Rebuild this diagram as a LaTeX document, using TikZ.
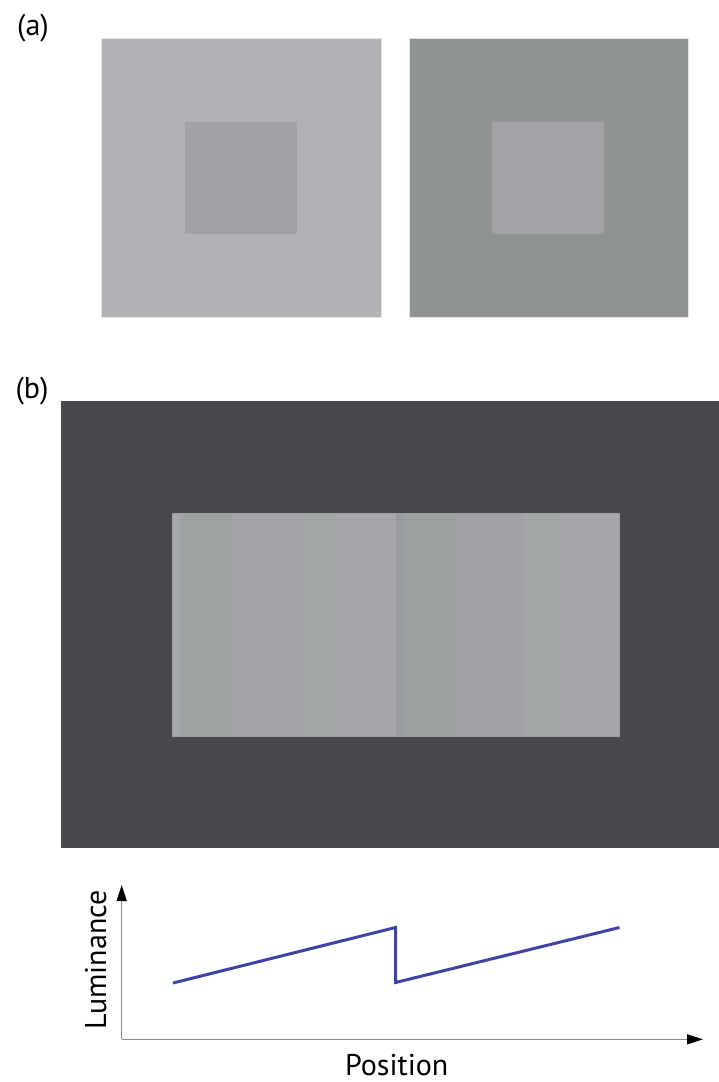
\documentclass[tikz,border=0pt]{standalone}
\usepackage{fontspec}
\setmainfont{PT Sans}
\usepackage{xcolor}
\usepackage{tikz}
\usetikzlibrary{arrows.meta}
\definecolor{outerlight}{HTML}{B2B1B6}
\definecolor{innerleft}{HTML}{A2A1A6}
\definecolor{outergreen}{HTML}{8F9493}
\definecolor{innerright}{HTML}{A3A2A6}
\definecolor{surround}{HTML}{48474D}
\definecolor{barlav}{HTML}{A8A7AB}
\definecolor{bargreen}{HTML}{9CA3A2}
\definecolor{bargray}{HTML}{A3A2A6}
\definecolor{barsage}{HTML}{A0A7A6}
\definecolor{barpale}{HTML}{A7A6AA}
\definecolor{bardark}{HTML}{9B9B9F}
\definecolor{barteal}{HTML}{9AA1A0}
\definecolor{barmid}{HTML}{A2A1A5}
\definecolor{barlight}{HTML}{A6A5A9}
\definecolor{profile}{HTML}{3F44A3}
\definecolor{axisgray}{HTML}{8A8A8A}

\begin{document}
\begin{tikzpicture}[x=1pt, y=-1pt,
  lbl/.style={font=\fontsize{30}{34}\selectfont, inner sep=0pt},
  edge/.style={draw=white!80!gray, line width=0.8pt},
  axisline/.style={axisgray, line width=1.3pt, -{Triangle[length=16pt, width=10pt, color=black]}},
  trace/.style={profile, line width=3pt, line join=miter},
]
  \useasboundingbox (0,0) rectangle (719,1082);

  % Panel labels
  \node[lbl] (lba) at (33,28) {(a)};
  \node[lbl] (lbb) at (32,391) {(b)};

  % (a) simultaneous contrast squares
  \fill[outerlight] (101,38) rectangle (381,317);
  \draw[edge] (101,38) rectangle (381,317);
  \fill[innerleft] (185,122) rectangle (297,234);
  \fill[outergreen] (409,38) rectangle (688,317);
  \draw[edge] (409,38) rectangle (688,317);
  \fill[innerright] (492,122) rectangle (604,234);

  % (b) surround
  \fill[surround] (61,401) rectangle (719,848);

  % (b) bands of the strip
  \foreach \xa/\xb/\col in {172.7/180/barlav, 180/232.7/bargreen, 232.7/303.3/bargray,
      303.3/337.7/barsage, 337.7/396/barpale, 396/402.7/bardark, 402.7/456/barteal,
      456/525/barmid, 525/561.7/barsage, 561.7/619.3/barlight}{
    \fill[\col] (\xa,513.3) rectangle (\xb,736.7);
  }
  \draw[gray!75, line width=0.8pt] (172.7,513.3) rectangle (619.3,736.7);

  % Luminance profile
  \coordinate (orig) at (121.7,1039.3);
  \coordinate (ytip) at (121.7,885);
  \coordinate (xtip) at (703,1039.3);
  \draw[axisline] (orig) -- (ytip);
  \draw[axisline] (orig) -- (xtip);

  \coordinate (p0) at (173,983);
  \coordinate (p1) at (395.5,927.5);
  \coordinate (p2) at (395.5,982.5);
  \coordinate (p3) at (619.5,927.5);
  \draw[trace] (p0) -- (p1) -- (p2) -- (p3);

  % Axis labels
  \node[lbl, anchor=base] (xlab) at (396.7,1075) {Position};
  \node[lbl, anchor=base, rotate=90] (ylab) at (106,960) {Luminance};
\end{tikzpicture}
\end{document}
